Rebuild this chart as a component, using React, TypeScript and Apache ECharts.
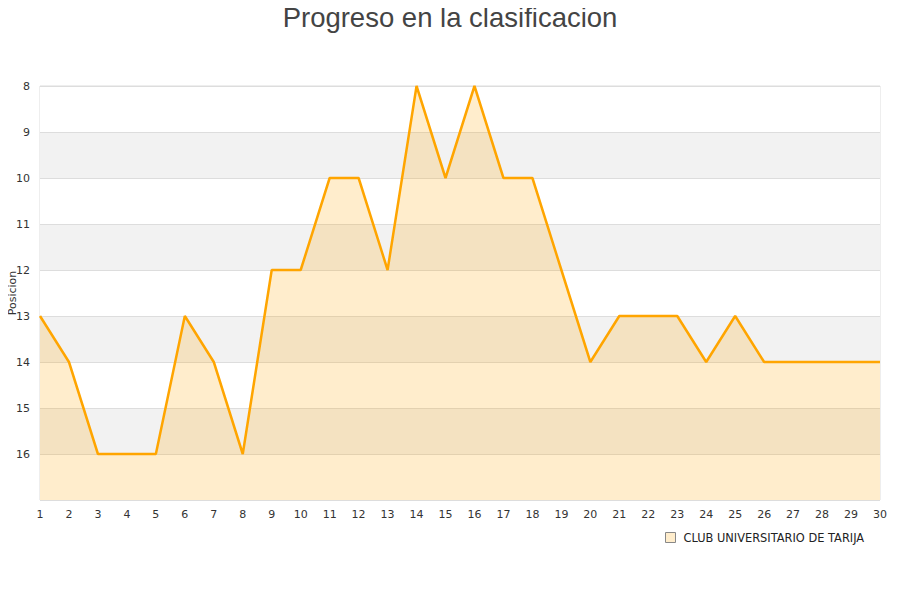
import React, { useEffect, useRef } from "react";
import * as echarts from "echarts";

const jornadas: string[] = Array.from({ length: 30 }, (_, i) => String(i + 1));
const posiciones: number[] = [13, 14, 16, 16, 16, 13, 14, 16, 12, 12, 10, 10, 12, 8, 10, 8, 10, 10, 12, 14, 13, 13, 13, 14, 13, 14, 14, 14, 14, 14];
const seriesName = "CLUB UNIVERSITARIO DE TARIJA";
const titleText = "Progreso en la clasificacion";
const yAxisName = "Posicion";

export default function App() {
  const ref = useRef<HTMLDivElement>(null);
  useEffect(() => {
    if (!ref.current) return;
    const chart = echarts.init(ref.current, null, { renderer: "svg" });
    chart.setOption({
      animation: false,
      backgroundColor: "#ffffff",
      title: {
        text: titleText,
        left: "center",
        top: 3,
        padding: 0,
        textStyle: {
          fontFamily: "Liberation Sans",
          fontSize: 27.5,
          fontWeight: "normal",
          color: "#444",
        },
      },
      grid: {
        left: 40,
        right: 20,
        top: 86,
        bottom: 100,
        containLabel: false,
        outerBoundsMode: "none",
        show: true,
        borderColor: "#ddd",
        borderWidth: 1,
        backgroundColor: "transparent",
      },
      legend: {
        show: true,
        left: 660,
        top: 527,
        icon: "rect",
        itemWidth: 10,
        itemHeight: 10,
        itemGap: 10,
        textStyle: { fontFamily: "DejaVu Sans", fontSize: 11.4, color: "#222", padding: [0, 0, 0, 3] },
        data: [
          {
            name: seriesName,
            itemStyle: { color: "rgba(255,165,0,0.2)", borderColor: "#888", borderWidth: 1, opacity: 1 },
          },
        ],
      },
      xAxis: {
        type: "category",
        data: jornadas,
        boundaryGap: false,
        axisLine: { show: false },
        axisTick: { show: false },
        splitLine: { show: false },
        axisLabel: {
          interval: 0,
          margin: 9,
          fontFamily: "DejaVu Sans",
          fontSize: 11,
          color: "#333",
        },
      },
      yAxis: {
        type: "value",
        inverse: true,
        min: 8,
        max: 17,
        interval: 1,
        name: yAxisName,
        nameLocation: "middle",
        nameGap: 22,
        nameRotate: 90,
        nameMoveOverlap: false,
        nameTextStyle: { fontFamily: "DejaVu Sans", fontSize: 11, color: "#333" },
        axisLine: { show: false },
        axisTick: { show: false },
        axisLabel: {
          margin: 10,
          fontFamily: "DejaVu Sans",
          fontSize: 11,
          color: "#333",
          formatter: (v: number) => (v >= 17 ? "" : String(v)),
        },
        splitLine: { show: true, lineStyle: { color: "#ddd", width: 1 } },
        splitArea: { show: true, areaStyle: { color: ["#ffffff", "#f2f2f2"] } },
      },
      series: [
        {
          name: seriesName,
          type: "line",
          data: posiciones,
          symbol: "none",
          lineStyle: { color: "#ffa500", width: 2.5 },
          itemStyle: { color: "#ffa500" },
          areaStyle: { color: "rgba(255,165,0,0.2)", opacity: 1, origin: "end" },
        },
      ],
    });
    return () => chart.dispose();
  }, []);
  return <div ref={ref} style={{ width: 900, height: 600, margin: -8 }} />;
}
